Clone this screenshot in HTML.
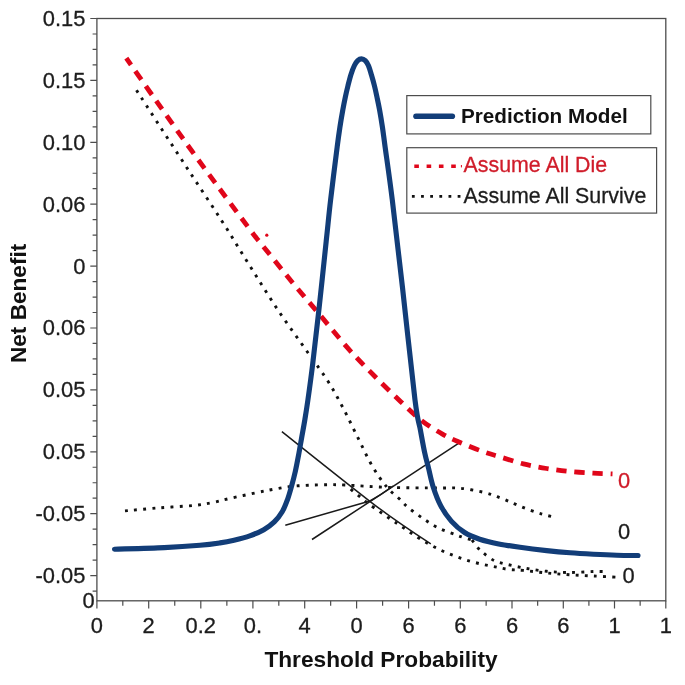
<!DOCTYPE html>
<html lang="en"><head><meta charset="utf-8"><title>Decision curve</title>
<style>html,body{margin:0;padding:0;background:#fff;}body{width:685px;height:685px;overflow:hidden}svg{display:block;filter:blur(0.5px)}</style>
</head><body>
<svg width="685" height="685" viewBox="0 0 685 685">
<rect width="685" height="685" fill="#ffffff"/>
<rect x="96.9" y="18.5" width="568.9" height="582.3" fill="none" stroke="#4d4d4d" stroke-width="1.3"/>
<path d="M90.3,18.50H96.9 M92.6,33.98H96.9 M92.6,49.45H96.9 M92.6,64.92H96.9 M90.3,80.40H96.9 M92.6,95.88H96.9 M92.6,111.35H96.9 M92.6,126.83H96.9 M90.3,142.30H96.9 M92.6,157.78H96.9 M92.6,173.25H96.9 M92.6,188.72H96.9 M90.3,204.20H96.9 M92.6,219.67H96.9 M92.6,235.15H96.9 M92.6,250.62H96.9 M90.3,266.10H96.9 M92.6,281.57H96.9 M92.6,297.05H96.9 M92.6,312.52H96.9 M90.3,328.00H96.9 M92.6,343.47H96.9 M92.6,358.95H96.9 M92.6,374.43H96.9 M90.3,389.90H96.9 M92.6,405.38H96.9 M92.6,420.85H96.9 M92.6,436.32H96.9 M90.3,451.80H96.9 M92.6,467.27H96.9 M92.6,482.75H96.9 M92.6,498.22H96.9 M90.3,513.70H96.9 M92.6,529.17H96.9 M92.6,544.65H96.9 M92.6,560.12H96.9 M90.3,575.60H96.9 M92.6,591.07H96.9" stroke="#4d4d4d" stroke-width="1.2" fill="none"/>
<path d="M96.90,600.8V608.4 M122.80,600.8V605.8 M148.70,600.8V608.4 M174.75,600.8V605.8 M200.80,600.8V608.4 M226.85,600.8V605.8 M252.90,600.8V608.4 M278.80,600.8V605.8 M304.70,600.8V608.4 M330.65,600.8V605.8 M356.60,600.8V608.4 M382.60,600.8V605.8 M408.60,600.8V608.4 M434.45,600.8V605.8 M460.30,600.8V608.4 M486.15,600.8V605.8 M512.00,600.8V608.4 M537.65,600.8V605.8 M563.30,600.8V608.4 M588.90,600.8V605.8 M614.50,600.8V608.4 M640.15,600.8V605.8 M665.80,600.8V608.4" stroke="#4d4d4d" stroke-width="1.2" fill="none"/>
<g font-family="Liberation Sans, Arial, Helvetica, sans-serif" font-size="21.9" fill="#1c1c1c" stroke="#1c1c1c" stroke-width="0.3">
<text x="85.4" y="25.9" text-anchor="end">0.15</text>
<text x="85.4" y="87.8" text-anchor="end">0.15</text>
<text x="85.4" y="149.7" text-anchor="end">0.10</text>
<text x="85.4" y="211.6" text-anchor="end">0.06</text>
<text x="85.4" y="273.5" text-anchor="end">0</text>
<text x="85.4" y="335.4" text-anchor="end">0.06</text>
<text x="85.4" y="397.3" text-anchor="end">0.05</text>
<text x="85.4" y="459.2" text-anchor="end">0.05</text>
<text x="85.4" y="521.1" text-anchor="end">-0.05</text>
<text x="85.4" y="583.0" text-anchor="end">-0.05</text>
<text x="94.8" y="608.2" text-anchor="end">0</text>
<text x="96.9" y="633.0" text-anchor="middle">0</text>
<text x="148.7" y="633.0" text-anchor="middle">2</text>
<text x="200.8" y="633.0" text-anchor="middle">0.2</text>
<text x="252.9" y="633.0" text-anchor="middle">0.</text>
<text x="304.7" y="633.0" text-anchor="middle">4</text>
<text x="356.6" y="633.0" text-anchor="middle">0</text>
<text x="408.6" y="633.0" text-anchor="middle">6</text>
<text x="460.3" y="633.0" text-anchor="middle">6</text>
<text x="512.0" y="633.0" text-anchor="middle">6</text>
<text x="563.3" y="633.0" text-anchor="middle">6</text>
<text x="614.5" y="633.0" text-anchor="middle">1</text>
<text x="665.8" y="633.0" text-anchor="middle">1</text>
<text x="624" y="487.6" text-anchor="middle" fill="#d01c2a" stroke="#d01c2a">0</text>
<text x="624" y="539.2" text-anchor="middle">0</text>
<text x="628.7" y="583.2" text-anchor="middle">0</text>
</g>
<g font-family="Liberation Sans, Arial, Helvetica, sans-serif" font-weight="bold" fill="#111">
<text x="381" y="667.2" font-size="22.7" text-anchor="middle">Threshold Probability</text>
<text transform="translate(25.9,303.4) rotate(-90)" font-size="22.6" text-anchor="middle">Net Benefit</text>
</g>
<path d="M136.50,90.20 C140.42,96.25 151.08,112.78 160.00,126.50 C168.92,140.22 179.75,156.85 190.00,172.50 C200.25,188.15 211.63,205.02 221.50,220.40 C231.37,235.78 239.82,249.90 249.20,264.80 C258.58,279.70 268.03,295.18 277.80,309.80 C287.57,324.42 299.43,340.58 307.80,352.50 C316.17,364.42 322.10,372.02 328.00,381.30 C333.90,390.58 338.27,398.90 343.20,408.20 C348.13,417.50 352.77,427.47 357.60,437.10 C362.43,446.73 367.35,457.70 372.20,466.00 C377.05,474.30 382.23,481.48 386.70,486.90 C391.17,492.32 395.37,495.02 399.00,498.50 C402.63,501.98 404.53,504.50 408.50,507.80 C412.47,511.10 417.88,514.97 422.80,518.30 C427.72,521.63 432.63,525.12 438.00,527.80 C443.37,530.48 450.88,532.82 455.00,534.40 C459.12,535.98 459.87,536.37 462.70,537.30 C465.53,538.23 470.45,539.55 472.00,540.00" stroke="#111" stroke-width="2.9" fill="none" stroke-dasharray="2.9 6.25"/>
<path d="M472.00,540.00 C472.97,541.28 476.22,545.82 477.80,547.70 C479.38,549.58 480.23,550.15 481.50,551.30 C482.77,552.45 483.33,553.07 485.40,554.60 C487.47,556.13 490.97,559.03 493.90,560.50 C496.83,561.97 497.98,562.15 503.00,563.40 C508.02,564.65 516.72,566.68 524.00,568.00 C531.28,569.32 539.02,570.55 546.70,571.30 C554.38,572.05 562.32,572.47 570.10,572.50 C577.88,572.53 587.92,571.67 593.40,571.50 C598.88,571.33 601.40,571.50 603.00,571.50" stroke="#111" stroke-width="2.9" fill="none" stroke-dasharray="2.9 6.25"/>
<path d="M350.70,489.20 C352.45,490.63 358.03,495.23 361.20,497.80 C364.37,500.37 365.03,501.20 369.70,504.60 C374.37,508.00 383.75,514.45 389.20,518.20 C394.65,521.95 397.98,524.10 402.40,527.10 C406.82,530.10 411.23,533.35 415.70,536.20 C420.17,539.05 424.73,541.73 429.20,544.20 C433.67,546.67 438.08,548.98 442.50,551.00 C446.92,553.02 451.32,554.67 455.70,556.30 C460.08,557.93 464.43,559.48 468.80,560.80 C473.17,562.12 477.52,563.20 481.90,564.20 C486.28,565.20 490.72,565.93 495.10,566.80 C499.48,567.67 503.48,568.80 508.20,569.40 C512.92,570.00 516.98,569.80 523.40,570.40 C529.82,571.00 538.92,572.27 546.70,573.00 C554.48,573.73 562.32,574.30 570.10,574.80 C577.88,575.30 585.62,575.60 593.40,576.00 C601.18,576.40 612.90,577.00 616.80,577.20" stroke="#111" stroke-width="2.9" fill="none" stroke-dasharray="2.9 6.25"/>
<path d="M125.00,510.90 C130.57,510.40 147.00,508.80 158.40,507.90 C169.80,507.00 184.45,506.37 193.40,505.50 C202.35,504.63 205.87,503.92 212.10,502.70 C218.33,501.48 223.40,499.87 230.80,498.20 C238.20,496.53 249.25,494.22 256.50,492.70 C263.75,491.18 268.47,490.15 274.30,489.10 C280.13,488.05 285.80,487.05 291.50,486.40 C297.20,485.75 302.60,485.48 308.50,485.20 C314.40,484.92 320.82,484.73 326.90,484.70 C332.98,484.67 334.73,484.55 345.00,485.00 C355.27,485.45 372.67,486.90 388.50,487.40 C404.33,487.90 428.08,487.87 440.00,488.00 C451.92,488.13 452.73,487.48 460.00,488.20 C467.27,488.92 476.93,490.72 483.60,492.30 C490.27,493.88 494.93,495.82 500.00,497.70 C505.07,499.58 509.33,501.65 514.00,503.60 C518.67,505.55 523.33,507.65 528.00,509.40 C532.67,511.15 537.78,512.85 542.00,514.10 C546.22,515.35 551.42,516.43 553.30,516.90" stroke="#111" stroke-width="2.9" fill="none" stroke-dasharray="2.9 6.25"/>
<path d="M281.9,431.6 Q345,482 369.9,501.3 T430.8,543.8" stroke="#1a1a1a" stroke-width="1.5" fill="none"/>
<path d="M285.3,525.2 L369.9,501 Q381,495 393,486" stroke="#1a1a1a" stroke-width="1.5" fill="none"/>
<path d="M312,539.5 L369.9,501.6 L460,442.4" stroke="#1a1a1a" stroke-width="1.5" fill="none"/>
<path d="M126.30,58.10 C131.17,65.07 145.28,85.40 155.50,99.90 C165.72,114.40 176.90,130.27 187.60,145.10 C198.30,159.93 209.10,174.55 219.70,188.90 C230.30,203.25 244.33,222.10 251.20,231.20 C258.07,240.30 253.93,234.83 260.90,243.50 C267.87,252.17 283.52,271.72 293.00,283.20 C302.48,294.68 308.55,301.45 317.80,312.40 C327.05,323.35 339.02,338.27 348.50,348.90 C357.98,359.53 366.03,367.43 374.70,376.20 C383.37,384.97 392.70,394.12 400.50,401.50 C408.30,408.88 414.50,415.07 421.50,420.50 C428.50,425.93 436.15,430.47 442.50,434.10 C448.85,437.73 453.03,439.45 459.60,442.30 C466.17,445.15 475.17,448.77 481.90,451.20 C488.63,453.63 493.08,454.78 500.00,456.90 C506.92,459.02 515.62,461.97 523.40,463.90 C531.18,465.83 538.92,467.22 546.70,468.50 C554.48,469.78 562.32,470.82 570.10,471.60 C577.88,472.38 586.33,472.82 593.40,473.20 C600.47,473.58 609.32,473.78 612.50,473.90" stroke="#e0061a" stroke-width="4.8" fill="none" stroke-dasharray="10.3 7.8" stroke-dashoffset="2"/>
<circle cx="266.8" cy="235.2" r="1.6" fill="#e0061a"/>
<path d="M114.50,549.20 C122.78,548.93 149.95,548.25 164.20,547.60 C178.45,546.95 190.70,546.08 200.00,545.30 C209.30,544.52 214.33,543.75 220.00,542.90 C225.67,542.05 229.03,541.37 234.00,540.20 C238.97,539.03 244.83,537.65 249.80,535.90 C254.77,534.15 259.72,532.03 263.80,529.70 C267.88,527.37 271.23,524.88 274.30,521.90 C277.37,518.92 280.00,515.52 282.20,511.80 C284.40,508.08 285.95,503.83 287.50,499.60 C289.05,495.37 290.20,491.08 291.50,486.40 C292.80,481.72 294.12,476.73 295.30,471.50 C296.48,466.27 297.55,460.58 298.60,455.00 C299.65,449.42 300.57,443.83 301.60,438.00 C302.63,432.17 303.75,426.33 304.80,420.00 C305.85,413.67 306.58,409.33 307.90,400.00 C309.22,390.67 310.88,378.87 312.70,364.00 C314.52,349.13 316.55,331.25 318.80,310.80 C321.05,290.35 324.23,259.77 326.20,241.30 C328.17,222.83 328.77,215.75 330.60,200.00 C332.43,184.25 335.62,159.13 337.20,146.80 C338.78,134.47 339.17,132.13 340.10,126.00 C341.03,119.87 341.93,114.80 342.80,110.00 C343.67,105.20 344.45,101.20 345.30,97.20 C346.15,93.20 346.97,89.75 347.90,86.00 C348.83,82.25 349.82,78.12 350.90,74.70 C351.98,71.28 353.27,67.83 354.40,65.50 C355.53,63.17 356.52,61.80 357.70,60.70 C358.88,59.60 360.23,58.90 361.50,58.90 C362.77,58.90 364.15,59.60 365.30,60.70 C366.45,61.80 367.38,63.17 368.40,65.50 C369.42,67.83 370.38,71.28 371.40,74.70 C372.42,78.12 373.57,82.25 374.50,86.00 C375.43,89.75 376.15,93.20 377.00,97.20 C377.85,101.20 378.70,105.03 379.60,110.00 C380.50,114.97 381.48,120.87 382.40,127.00 C383.32,133.13 383.45,134.63 385.10,146.80 C386.75,158.97 389.40,176.53 392.30,200.00 C395.20,223.47 398.72,254.27 402.50,287.60 C406.28,320.93 412.02,376.27 415.00,400.00 C417.98,423.73 418.78,421.20 420.40,430.00 C422.02,438.80 423.35,446.47 424.70,452.80 C426.05,459.13 427.08,462.30 428.50,468.00 C429.92,473.70 431.15,480.68 433.20,487.00 C435.25,493.32 437.78,500.22 440.80,505.90 C443.82,511.58 447.33,516.67 451.30,521.10 C455.27,525.53 459.87,529.48 464.60,532.50 C469.33,535.52 474.02,537.30 479.70,539.20 C485.38,541.10 491.98,542.55 498.70,543.90 C505.42,545.25 512.00,546.18 520.00,547.30 C528.00,548.42 538.35,549.68 546.70,550.60 C555.05,551.52 562.32,552.20 570.10,552.80 C577.88,553.40 585.62,553.80 593.40,554.20 C601.18,554.60 609.37,554.98 616.80,555.20 C624.23,555.42 634.47,555.45 638.00,555.50" stroke="#123d78" stroke-width="5.15" fill="none" stroke-linecap="round" stroke-linejoin="round"/>
<rect x="406.8" y="95.6" width="244" height="38.3" fill="#fff" stroke="#4d4d4d" stroke-width="1.2"/>
<rect x="406.8" y="147.7" width="249.8" height="65.4" fill="#fff" stroke="#4d4d4d" stroke-width="1.2"/>
<path d="M416,116.2H452.3" stroke="#123d78" stroke-width="5.6" stroke-linecap="round"/>
<text x="461.0" y="123.3" font-family="Liberation Sans, Arial, sans-serif" font-weight="bold" font-size="20.7" fill="#111">Prediction Model</text>
<path d="M414.3,166.2H458" stroke="#e0061a" stroke-width="3.4" stroke-dasharray="4.6 7.7"/>
<rect x="460.9" y="165" width="1" height="2.4" fill="#e0061a"/>
<text x="463.6" y="172.3" font-family="Liberation Sans, Arial, sans-serif" font-size="21.35" fill="#d01c2a" stroke="#d01c2a" stroke-width="0.3">Assume All Die</text>
<path d="M411.9,196.4H461" stroke="#111" stroke-width="2.8" stroke-dasharray="2.8 6.35"/>
<text x="463.6" y="203.1" font-family="Liberation Sans, Arial, sans-serif" font-size="21.35" fill="#1c1c1c" stroke="#1c1c1c" stroke-width="0.3">Assume All Survive</text>
</svg>
</body></html>
